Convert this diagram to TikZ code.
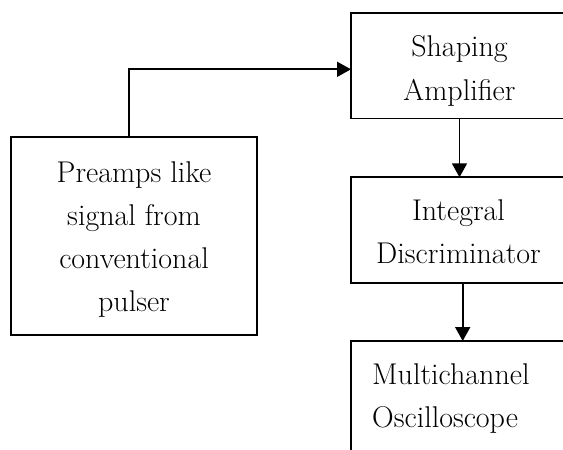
\documentclass[tikz,border=0pt]{standalone}
\usepackage{fontspec}
\usetikzlibrary{arrows.meta}
\tikzset{
  blockbox/.style={draw=black, line width=1.8pt, rectangle, outer sep=0pt, inner sep=0pt, fill=white},
  arr/.style={line width=1.8pt, -{Triangle[length=14pt,width=15pt]}},
  lbl/.style={inner sep=0pt, font=\fontsize{30}{43}\selectfont, anchor=base},
  lblw/.style={lbl, anchor=base west}
}
\begin{document}
\begin{tikzpicture}[x=1pt,y=-1pt]
\useasboundingbox (0,0) rectangle (563,450);
\clip (0,0) rectangle (563,450);
\fill[white] (0,0) rectangle (563,450);

\node[blockbox, anchor=north west, minimum width=245.7pt, minimum height=197.7pt] (pre) at (11,137.3) {};
\node[blockbox, anchor=north west, minimum width=217pt, minimum height=105.2pt] (shaping) at (351,13.3) {};
\node[blockbox, anchor=north west, minimum width=217pt, minimum height=106pt] (integral) at (351,177.3) {};
\node[blockbox, anchor=north west, minimum width=217pt, minimum height=150pt] (multi) at (351,341) {};

\node[lbl] (pre1) at (134,182) {Preamps like};
\node[lbl] (pre2) at (134,225) {signal from};
\node[lbl] (pre3) at (134,268) {conventional};
\node[lbl] (pre4) at (134,311) {pulser};

\node[lbl] (sh1) at (459.5,56.5) {Shaping};
\node[lbl] (sh2) at (459.5,100) {Amplifier};

\node[lbl] (in1) at (458.5,220.7) {Integral};
\node[lbl] (in2) at (458.5,263.5) {Discriminator};

\node[lblw] (mu1) at (372,384) {Multichannel};
\node[lblw] (mu2) at (372,427) {Oscilloscope};

\draw[arr] ([xshift=-5pt]pre.north) |- ([yshift=-3.4pt]shaping.west);
\draw[arr] (shaping.south) -- (integral.north);
\draw[arr] ([xshift=3.2pt]integral.south) -- ([xshift=3.2pt]multi.north);
\end{tikzpicture}
\end{document}
